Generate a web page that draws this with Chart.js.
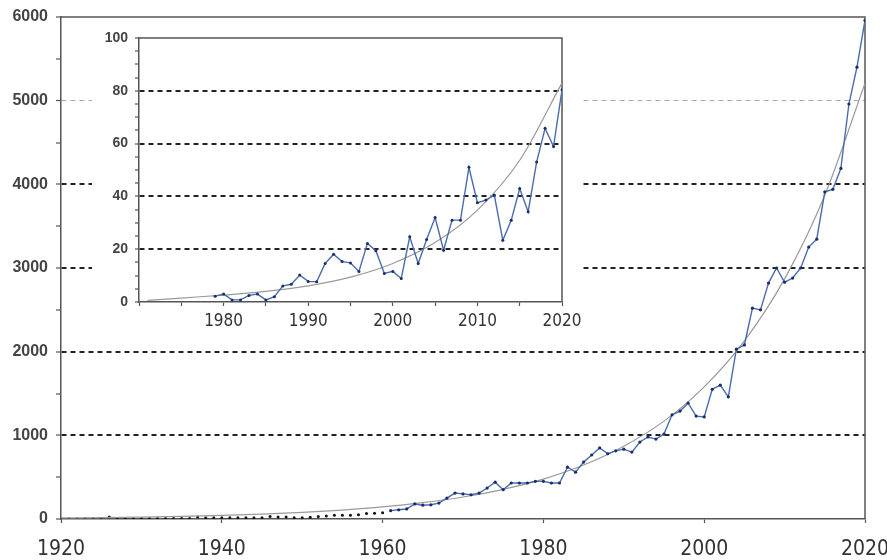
<!DOCTYPE html>
<html><head><meta charset="utf-8">
<script src="https://cdn.jsdelivr.net/npm/chart.js@4/dist/chart.umd.min.js"></script>
<style>
html,body{margin:0;padding:0;background:#fff;}
#wrap{position:relative;width:887px;height:560px;overflow:hidden;background:#fff;}
#main{position:absolute;left:0;top:0;}
#insetBox{position:absolute;left:92px;top:20px;width:490px;height:317px;background:#fff;}
#inset{position:absolute;left:0;top:0;}
</style></head><body>
<div id="wrap">
<canvas id="main" width="887" height="560"></canvas>
<div id="insetBox"><canvas id="inset" width="490" height="317"></canvas></div>
</div>
<script>
// ---------- data ----------
const earlyYears = [1920,1921,1922,1923,1924,1925,1926,1927,1928,1929,1930,1931,1932,1933,1934,1935,1936,1937,1938,1939,1940,1941,1942,1943,1944,1945,1946,1947,1948,1949,1950,1951,1952,1953,1954,1955,1956,1957,1958,1959,1960];
const earlyValues = [0,0,0,0,0,0,25,5,5,5,5,5,5,5,5,5,5,25,15,15,15,15,15,15,15,15,30,25,25,15,15,20,30,35,45,45,45,50,65,70,75];

const mainYears = [1961,1962,1963,1964,1965,1966,1967,1968,1969,1970,
  1971,1972,1973,1974,1975,1976,1977,1978,1979,1980,
  1981,1982,1983,1984,1985,1986,1987,1988,1989,1990,
  1991,1992,1993,1994,1995,1996,1997,1998,1999,2000,
  2001,2002,2003,2004,2005,2006,2007,2008,2009,2010,
  2011,2012,2013,2014,2015,2016,2017,2018,2019,2020];
const mainValues = [100,110,120,180,165,170,190,250,310,300,
  290,310,370,440,350,430,430,430,450,450,
  430,430,620,560,680,765,850,780,815,835,
  800,920,980,955,1015,1245,1290,1385,1230,1220,
  1550,1600,1460,2030,2080,2520,2500,2820,3000,2830,
  2880,3000,3250,3345,3910,3940,4190,4960,5400,5960];

const trendYears = [1920,1925,1930,1935,1940,1945,1950,1955,1960,1965,1970,1975,1980,1985,1990,1995,2000,2005,2010,2015,2020];
const trendValues = [13,17,23,32,44,59,79,107,144,195,263,355,477,645,870,1170,1580,2130,2870,3870,5210];

const insetYears = [1979,1980,1981,1982,1983,1984,1985,1986,1987,1988,
  1989,1990,1991,1992,1993,1994,1995,1996,1997,1998,
  1999,2000,2001,2002,2003,2004,2005,2006,2007,2008,
  2009,2010,2011,2012,2013,2014,2015,2016,2017,2018,
  2019,2020];
const insetValues = [2.2,3.0,0.8,0.8,2.5,3.0,0.8,2.0,6.1,6.7,
  10.2,7.8,7.7,14.6,18.1,15.3,14.8,11.6,22.2,19.4,
  10.8,11.6,8.9,24.7,14.6,23.7,32,19.6,31,31,
  51,37.6,38.6,40.5,23.4,31,43,34.2,53,65.8,
  58.9,80.4];

const insetTrendYears = [1971,1975,1980,1985,1990,1995,2000,2005,2010,2015,2020];
const insetTrendValues = [0.6,1.5,2.6,4.0,6.1,9.4,14.6,22.5,34.8,53.7,83];

const mainXTickLabels = [1920,1940,1960,1980,2000,2020];
const mainYTickLabels = [0,1000,2000,3000,4000,5000,6000];
const insetXTickLabels = [1980,1990,2000,2010,2020];
const insetYTickLabels = [0,20,40,60,80,100];

// ---------- helpers ----------
const pts = (xs, ys) => xs.map((x, i) => ({x: x, y: ys[i]}));
const BLUE = '#4a6cae';
const NAVY = '#1d2c6a';
const GREY = '#9a9a9a';
const AXIS = '#555';

const frame = {
  id: 'frame',
  beforeDatasetsDraw(chart) {
    const a = chart.chartArea, c = chart.ctx;
    c.save();
    c.strokeStyle = AXIS; c.lineWidth = 1.5;
    c.beginPath();
    c.moveTo(a.left, a.top); c.lineTo(a.right, a.top); c.lineTo(a.right, a.bottom);
    c.stroke();
    c.restore();
  }
};
const noPad = s => { s.paddingLeft = 0; s.paddingRight = 0; s.paddingTop = 0; s.paddingBottom = 0; };

Chart.defaults.animation = false;
Chart.defaults.devicePixelRatio = 1;

// ---------- main chart ----------
new Chart(document.getElementById('main'), {
  type: 'scatter',
  data: {
    datasets: [
      { data: pts(mainYears, mainValues), showLine: true, borderColor: BLUE, borderWidth: 1.4,
        pointRadius: 1.6, pointBackgroundColor: NAVY, pointBorderColor: NAVY, pointBorderWidth: 0, tension: 0 },
      { data: pts(trendYears, trendValues), showLine: true, borderColor: GREY, borderWidth: 1.2,
        pointRadius: 0, cubicInterpolationMode: 'monotone' },
      { data: pts(earlyYears, earlyValues), showLine: false,
        pointRadius: 1.5, pointBackgroundColor: '#111', pointBorderColor: '#111', pointBorderWidth: 0 }
    ]
  },
  options: {
    responsive: false,
    events: [],
    layout: { padding: { left: 0, top: 17, right: 22, bottom: 0 } },
    plugins: { legend: { display: false }, tooltip: { enabled: false } },
    scales: {
      x: {
        type: 'linear', min: 1920, max: 2020,
        afterFit: s => { s.height = 41; noPad(s); },
        border: { color: AXIS, width: 1.5 },
        grid: { drawOnChartArea: false, drawTicks: true, tickLength: 4, tickColor: AXIS, tickWidth: 1.2 },
        afterBuildTicks: s => { s.ticks = mainXTickLabels.map(v => ({value: v})); },
        ticks: { padding: 14, color: '#333', maxRotation: 0, autoSkip: false,
          font: { family: "'Liberation Sans Narrow', 'DejaVu Sans Condensed', 'Liberation Sans', Arial", size: 21 },
          callback: v => String(v) }
      },
      y: {
        type: 'linear', min: 0, max: 6000,
        afterFit: s => { s.width = 61; noPad(s); },
        afterBuildTicks: s => {
          const t = [];
          for (let i = 0; i < mainYTickLabels.length; i++) {
            t.push({value: mainYTickLabels[i]});
            if (i < mainYTickLabels.length - 1) t.push({value: (mainYTickLabels[i] + mainYTickLabels[i+1]) / 2});
          }
          s.ticks = t;
        },
        border: { color: AXIS, width: 1.5, dash: [5, 4] },
        grid: {
          drawTicks: true, tickLength: 5, tickColor: AXIS, tickWidth: 1.2,
          color: c => {
            const v = c.tick ? c.tick.value : -1;
            if (v <= 0 || v >= 6000 || v % 1000 !== 0) return 'rgba(0,0,0,0)';
            return v === 5000 ? '#aaa' : '#222';
          },
          lineWidth: c => (c.tick && c.tick.value === 5000) ? 1 : 2
        },
        ticks: { padding: 8, color: '#444', autoSkip: false,
          font: { family: "'Liberation Sans', Arial", size: 16, weight: 'bold' },
          callback: v => (mainYTickLabels.indexOf(v) >= 0 ? String(v) : '') }
      }
    }
  },
  plugins: [frame]
});

// ---------- inset chart ----------
new Chart(document.getElementById('inset'), {
  type: 'scatter',
  data: {
    datasets: [
      { data: pts(insetYears, insetValues), showLine: true, borderColor: BLUE, borderWidth: 1.4,
        pointRadius: 1.5, pointBackgroundColor: NAVY, pointBorderColor: NAVY, pointBorderWidth: 0, tension: 0 },
      { data: pts(insetTrendYears, insetTrendValues), showLine: true, borderColor: GREY, borderWidth: 1.2,
        pointRadius: 0, cubicInterpolationMode: 'monotone' }
    ]
  },
  options: {
    responsive: false,
    events: [],
    layout: { padding: { left: 0, top: 18, right: 20, bottom: 0 } },
    plugins: { legend: { display: false }, tooltip: { enabled: false } },
    scales: {
      x: {
        type: 'linear', min: 1970, max: 2020,
        afterFit: s => { s.height = 35; noPad(s); },
        afterBuildTicks: s => {
          const t = [];
          for (let v = 1970; v <= 2020; v += 5) t.push({value: v});
          s.ticks = t;
        },
        border: { color: AXIS, width: 1.5 },
        grid: { drawOnChartArea: false, drawTicks: true, tickLength: 4, tickColor: AXIS, tickWidth: 1.2 },
        ticks: { padding: 5, color: '#333', maxRotation: 0, autoSkip: false,
          font: { family: "'Liberation Sans Narrow', 'DejaVu Sans Condensed', 'Liberation Sans', Arial", size: 17 },
          callback: v => (insetXTickLabels.indexOf(v) >= 0 ? String(v) : '') }
      },
      y: {
        type: 'linear', min: 0, max: 100,
        afterFit: s => { s.width = 47; noPad(s); },
        afterBuildTicks: s => {
          const t = [];
          for (let v = 0; v <= 100; v += 5) t.push({value: v});
          s.ticks = t;
        },
        border: { color: AXIS, width: 1.5, dash: [5, 4] },
        grid: {
          drawTicks: true, tickLength: 4, tickColor: AXIS, tickWidth: 1.2,
          color: c => {
            const v = c.tick ? c.tick.value : -1;
            return (insetYTickLabels.indexOf(v) >= 0 && v > 0 && v < 100) ? '#222' : 'rgba(0,0,0,0)';
          },
          lineWidth: 2
        },
        ticks: { padding: 7, color: '#444', autoSkip: false,
          font: { family: "'Liberation Sans', Arial", size: 14, weight: 'bold' },
          callback: v => (insetYTickLabels.indexOf(v) >= 0 ? String(v) : '') }
      }
    }
  },
  plugins: [frame]
});
</script>
</body></html>
